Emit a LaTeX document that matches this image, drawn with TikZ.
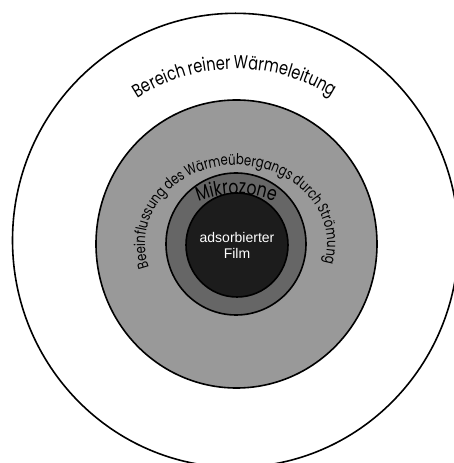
\documentclass[tikz,border=0pt]{standalone}
\usepackage{fontspec}
\setmainfont{Liberation Sans}
\newfontfamily\geo[FakeStretch=0.78,LetterSpace=-5]{Poppins}
\usetikzlibrary{decorations.text}
\newlength\arcw
\newcommand\fitsize[3]{%
  \settowidth\arcw{\geo\fontsize{10}{12}\selectfont #2}%
  \pgfmathsetmacro#1{10*#3/\arcw}}
\definecolor{zoneA}{gray}{0.6}
\definecolor{zoneB}{gray}{0.4}
\definecolor{zoneC}{gray}{0.11}
\tikzset{
  ring/.style={draw=black, line width=1.6pt},
  arctext/.style={decorate, decoration={text along path, text align=center, text={#1}}},
}
\begin{document}
\fitsize{\fsA}{Bereich reiner Wärmeleitung}{185}%
\fitsize{\fsB}{Beeinflussung des Wärmeübergangs durch Strömung}{282}%
\fitsize{\fsC}{Mikrozone}{70}%
\begin{tikzpicture}[x=1pt,y=1pt]
\useasboundingbox (0,0) rectangle (454,463);
\clip (0,0) rectangle (454,463);
% zones
\draw[ring, fill=white] (235.5,222.7) ellipse [x radius=223, y radius=227];
\draw[ring, fill=zoneA] (236.5,219) ellipse [x radius=140.5, y radius=144];
\draw[ring, fill=zoneB] (236,219) ellipse [x radius=70, y radius=71];
\draw[ring, fill=zoneC] (237,218) ellipse [x radius=51, y radius=52];
% arc texts
\path[arctext={|\geo\fontsize{\fsA}{\fsA}\selectfont|Bereich reiner Wärmeleitung}]
  (236,213) ++(140:181) arc[start angle=140, end angle=41, radius=181];
\path[arctext={|\geo\fontsize{\fsB}{\fsB}\selectfont|Beeinflussung des Wärmeübergangs durch Strömung}]
  (236,219) ++(213:91 and 79) arc[start angle=213, end angle=-30, x radius=91, y radius=79];
\path[arctext={|\geo\fontsize{\fsC}{\fsC}\selectfont|Mikrozone}]
  (236.5,169) ++(125:100) arc[start angle=125, end angle=55, radius=100];
% centre label
\node[text=white, align=center, inner sep=0pt, font=\fontsize{14}{16}\selectfont] (film) at (237,217.5) {adsorbierter\\Film};
\end{tikzpicture}
\end{document}
